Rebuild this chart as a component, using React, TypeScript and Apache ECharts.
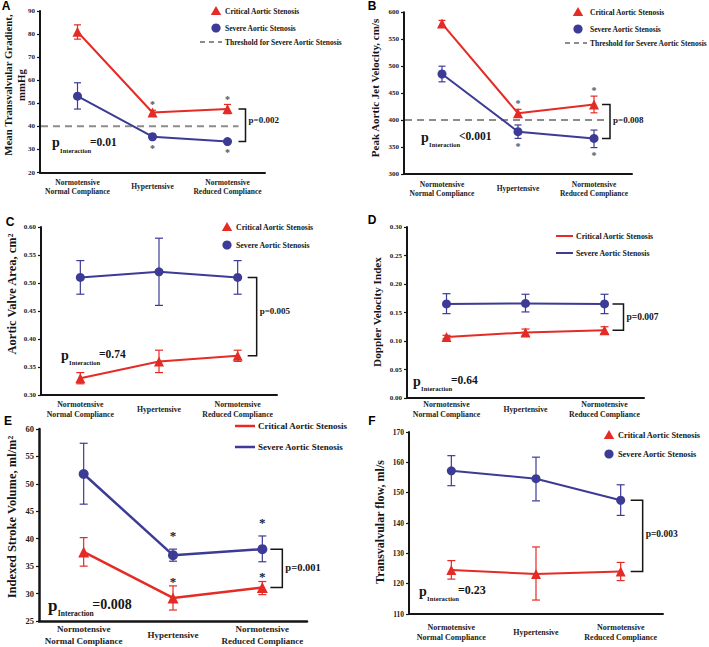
import React, { useEffect, useRef } from "react";
import * as echarts from "echarts";

const SERIF = "'Liberation Serif', 'Times New Roman', serif";
const SANS = "'Liberation Sans', Arial, sans-serif";
const RED = "#e42b26";
const BLUE = "#3c3b95";
const INK = "#151515";

const categories = ["Normotensive\nNormal Compliance", "Hypertensive", "Normotensive\nReduced Compliance"];
const seriesNames = ["Critical Aortic Stenosis", "Severe Aortic Stenosis"];
const thresholdName = "Threshold for Severe Aortic Stenosis";

// Panel A: mean transvalvular gradient (mmHg)
const gradientAxis = [20, 90, 10];
const gradientCritical = [81, 46, 47.5];
const gradientCriticalLow = [77.8, 45, 45.5];
const gradientCriticalHigh = [84, 47, 49.5];
const gradientSevere = [53.1, 35.5, 33.4];
const gradientSevereLow = [47.5, 34.3, 32.6];
const gradientSevereHigh = [58.9, 36.6, 34.3];
const gradientThreshold = 40;
const gradientStarsCritical = [0, 1, 1];
const gradientStarsSevere = [0, -1, -1];
const gradientP = "p=0.002";
const gradientInteraction = "=0.01";

// Panel B: peak aortic jet velocity (cm/s)
const velocityAxis = [300, 600, 50];
const velocityCritical = [579, 412.5, 429];
const velocityCriticalLow = [573, 405, 413.5];
const velocityCriticalHigh = [585, 420, 444.5];
const velocitySevere = [485.5, 378.5, 366];
const velocitySevereLow = [471, 366, 349];
const velocitySevereHigh = [500, 391, 381.5];
const velocityThreshold = 400;
const velocityStarsCritical = [0, 1, 1];
const velocityStarsSevere = [0, -1, -1];
const velocityP = "p=0.008";
const velocityInteraction = "<0.001";

// Panel C: aortic valve area (cm²)
const areaAxis = [0.3, 0.6, 0.05];
const areaCritical = [0.33, 0.36, 0.37];
const areaCriticalLow = [0.32, 0.34, 0.36];
const areaCriticalHigh = [0.34, 0.38, 0.38];
const areaSevere = [0.51, 0.52, 0.51];
const areaSevereLow = [0.48, 0.46, 0.48];
const areaSevereHigh = [0.54, 0.58, 0.54];
const areaP = "p=0.005";
const areaInteraction = "=0.74";

// Panel D: Doppler velocity index
const dviAxis = [0, 0.3, 0.05];
const dviCritical = [0.107, 0.115, 0.119];
const dviCriticalLow = [0.104, 0.109, 0.113];
const dviCriticalHigh = [0.11, 0.121, 0.125];
const dviSevere = [0.165, 0.166, 0.165];
const dviSevereLow = [0.148, 0.151, 0.148];
const dviSevereHigh = [0.183, 0.182, 0.182];
const dviP = "p=0.007";
const dviInteraction = "=0.64";

// Panel E: indexed stroke volume (ml/m²)
const svAxis = [25, 60, 5];
const svCritical = [37.6, 29.2, 31.1];
const svCriticalLow = [35.0, 27.0, 29.8];
const svCriticalHigh = [40.2, 31.4, 32.2];
const svSevere = [51.8, 37.0, 38.1];
const svSevereLow = [46.3, 35.9, 35.8];
const svSevereHigh = [57.4, 38.1, 40.5];
const svStarsCritical = [0, 1, 1];
const svStarsSevere = [0, 1, 1];
const svP = "p=0.001";
const svInteraction = "=0.008";

// Panel F: transvalvular flow (ml/s)
const flowAxis = [110, 170, 10];
const flowCritical = [124.5, 123.2, 124.0];
const flowCriticalLow = [121.5, 114.6, 121.0];
const flowCriticalHigh = [127.6, 132.1, 127.0];
const flowSevere = [157.2, 154.6, 147.5];
const flowSevereLow = [152.3, 147.3, 142.5];
const flowSevereHigh = [162.2, 161.7, 152.6];
const flowP = "p=0.003";
const flowInteraction = "=0.23";

const panels: any[] = [
  {
    letter: "A", title: "Mean Transvalvular Gradient,\nmmHg", axis: gradientAxis, decimals: 0,
    critical: [gradientCritical, gradientCriticalLow, gradientCriticalHigh],
    severe: [gradientSevere, gradientSevereLow, gradientSevereHigh],
    threshold: gradientThreshold, starsCritical: gradientStarsCritical, starsSevere: gradientStarsSevere,
    p: gradientP, interaction: gradientInteraction,
    L: {
      grid: [40, 11, 225, 161.5], letterPos: [6, 6], titlePos: [14.5, 85], titleSize: 10.8, titleLH: 13,
      tickFont: 7, catFont: 7.5, catLH: 9, catMargin: 14, axisW: 2,
      legend: { kind: "marker", x: 216, ys: [11, 28, 42], textX: 225, font: 7.5, dash: [200, 222] },
      bracket: [11, 18, 9, -5], pInt: { x: 52, base: 147.5, fp: 14, fs: 6.5, fv: 11.5 },
      star: { size: 10, color: "#555", gapC: 7, gapS: 7 }, tri: 10, circ: 9, cap: 3.5, lw: 2, dashEnd: 11,
    },
  },
  {
    letter: "B", title: "Peak Aortic Jet Velocity, cm/s", axis: velocityAxis, decimals: 0,
    critical: [velocityCritical, velocityCriticalLow, velocityCriticalHigh],
    severe: [velocitySevere, velocitySevereLow, velocitySevereHigh],
    threshold: velocityThreshold, starsCritical: velocityStarsCritical, starsSevere: velocityStarsSevere,
    p: velocityP, interaction: velocityInteraction,
    L: {
      grid: [404, 12.3, 228, 161.7], letterPos: [372, 6], titlePos: [375, 88], titleSize: 11, titleLH: 13,
      tickFont: 7, catFont: 7.5, catLH: 9, catMargin: 14.5, axisW: 2,
      legend: { kind: "marker", x: 578, ys: [12, 29, 43], textX: 590, font: 7.5, dash: [565, 587] },
      bracket: [8, 16, 9, -1], pInt: { x: 421, base: 142, fp: 14, fs: 6.5, fv: 11.5 },
      star: { size: 10, color: "#555", gapC: 7.5, gapS: 6 }, tri: 10, circ: 9, cap: 3.5, lw: 2, dashEnd: 12,
    },
  },
  {
    letter: "C", title: "Aortic Valve Area, cm²", axis: areaAxis, decimals: 2,
    critical: [areaCritical, areaCriticalLow, areaCriticalHigh],
    severe: [areaSevere, areaSevereLow, areaSevereHigh],
    p: areaP, interaction: areaInteraction,
    L: {
      grid: [41, 227, 236, 168], letterPos: [10, 222], titlePos: [12, 294], titleSize: 12.5, titleLH: 14,
      tickFont: 7, catFont: 7.8, catLH: 10, catMargin: 14, axisW: 2,
      legend: { kind: "marker", x: 227, ys: [227, 245], textX: 236, font: 7.8 },
      bracket: [10, 19, 9, -6], pInt: { x: 61, base: 360, fp: 14, fs: 6.5, fv: 11.5 },
      star: null, tri: 10, circ: 9, cap: 4, lw: 2,
    },
  },
  {
    letter: "D", title: "Doppler Velocity Index", axis: dviAxis, decimals: 2,
    critical: [dviCritical, dviCriticalLow, dviCriticalHigh],
    severe: [dviSevere, dviSevereLow, dviSevereHigh],
    p: dviP, interaction: dviInteraction,
    L: {
      grid: [407, 227, 237, 171], letterPos: [372, 220], titlePos: [377, 312], titleSize: 11.2, titleLH: 13,
      tickFont: 7, catFont: 7.8, catLH: 10, catMargin: 11, axisW: 2,
      legend: { kind: "line", x1: 556, x2: 573, ys: [236, 253], textX: 576, font: 7.8, lw: 2 },
      bracket: [8, 19, 9.5, 0], pInt: { x: 413, base: 386, fp: 14, fs: 6.5, fv: 11.5 },
      star: null, tri: 10, circ: 9, cap: 4, lw: 2,
    },
  },
  {
    letter: "E", title: "Indexed Stroke Volume, ml/m²", axis: svAxis, decimals: 0,
    critical: [svCritical, svCriticalLow, svCriticalHigh],
    severe: [svSevere, svSevereLow, svSevereHigh],
    starsCritical: svStarsCritical, starsSevere: svStarsSevere,
    p: svP, interaction: svInteraction,
    L: {
      grid: [39, 429, 268, 193], letterPos: [8, 421], titlePos: [12, 517], titleSize: 12.5, titleLH: 15,
      tickFont: 8.5, catFont: 9, catLH: 12, catMargin: 14, axisW: 2.5,
      legend: { kind: "line", x1: 235, x2: 255, ys: [426, 447], textX: 258, font: 9, lw: 2.5 },
      bracket: [8, 20, 10.5, -1], pInt: { x: 48, base: 611, fp: 17, fs: 7.5, fv: 14 },
      star: { size: 13, color: "#222", gapC: 7, gapS: 16 }, tri: 11, circ: 10, cap: 4, lw: 2.5,
    },
  },
  {
    letter: "F", title: "Transvalvular flow, ml/s", axis: flowAxis, decimals: 0,
    critical: [flowCritical, flowCriticalLow, flowCriticalHigh],
    severe: [flowSevere, flowSevereLow, flowSevereHigh],
    p: flowP, interaction: flowInteraction,
    L: {
      grid: [409, 432, 254, 182], letterPos: [372, 421], titlePos: [380, 522], titleSize: 12, titleLH: 13,
      tickFont: 7.5, catFont: 8, catLH: 10, catMargin: 18, axisW: 2,
      legend: { kind: "marker", x: 609, ys: [435, 454], textX: 618, font: 8.3 },
      bracket: [10, 22, 9.5, -2], pInt: { x: 419, base: 596, fp: 14, fs: 6.7, fv: 12 },
      star: null, tri: 10, circ: 9, cap: 4, lw: 2,
    },
  },
];

function errorBar(color: string, cap: number, width: number) {
  return (params: any, api: any) => {
    const x = api.value(0);
    const lo = api.coord([x, api.value(1)]);
    const hi = api.coord([x, api.value(2)]);
    const st = { stroke: color, lineWidth: width };
    return {
      type: "group",
      children: [
        { type: "line", shape: { x1: lo[0], y1: lo[1], x2: hi[0], y2: hi[1] }, style: st },
        { type: "line", shape: { x1: lo[0] - cap, y1: lo[1], x2: lo[0] + cap, y2: lo[1] }, style: st },
        { type: "line", shape: { x1: hi[0] - cap, y1: hi[1], x2: hi[0] + cap, y2: hi[1] }, style: st },
      ],
    };
  };
}

function starItem(size: number, color: string, gap: number) {
  return (params: any, api: any) => {
    const p = api.coord([api.value(0), api.value(1)]);
    const dir = api.value(2);
    const cy = p[1] - dir * gap + 0.17 * size;
    return {
      type: "text",
      x: p[0],
      y: cy,
      style: { text: "*", fill: color, fontSize: size, fontWeight: "bold", fontFamily: SERIF, align: "center", verticalAlign: "middle", textAlign: "center", textVerticalAlign: "middle" },
    };
  };
}

function bracketItem(label: string, dx1: number, dx2: number, fontSize: number, dy: number) {
  return (params: any, api: any) => {
    const top = api.coord([api.value(0), api.value(1)]);
    const bot = api.coord([api.value(0), api.value(2)]);
    const x1 = top[0] + dx1;
    const x2 = top[0] + dx2;
    return {
      type: "group",
      children: [
        {
          type: "polyline",
          shape: { points: [[x1, top[1]], [x2, top[1]], [x2, bot[1]], [x1, bot[1]]] },
          style: { stroke: INK, lineWidth: 1.5, fill: null },
        },
        {
          type: "text",
          x: x2 + 3,
          y: (top[1] + bot[1]) / 2 + dy,
          style: { text: label, fill: INK, fontSize, fontWeight: "bold", fontFamily: SERIF, align: "left", verticalAlign: "middle", textAlign: "left", textVerticalAlign: "middle" },
        },
      ],
    };
  };
}

function thresholdItem(endOffset: number) {
  return (params: any, api: any) => {
    const p = api.coord([api.value(0), api.value(1)]);
    return {
      type: "line",
      shape: { x1: params.coordSys.x + 1, y1: p[1], x2: p[0] + endOffset, y2: p[1] },
      style: { stroke: "#8c8c8c", lineWidth: 2, lineDash: [7, 5] },
    };
  };
}

function txt(x: number, y: number, text: string, size: number, extra: any = {}) {
  return {
    type: "text", x, y, silent: true,
    style: { text, fontSize: size, fontWeight: "bold", fontFamily: SERIF, fill: INK, align: "left", verticalAlign: "middle", ...extra },
  };
}

function buildOption() {
  const grid: any[] = [];
  const xAxis: any[] = [];
  const yAxis: any[] = [];
  const series: any[] = [];
  const graphic: any[] = [];
  const last = categories.length - 1;

  panels.forEach((pn, i) => {
    const L = pn.L;
    grid.push({ left: L.grid[0], top: L.grid[1], width: L.grid[2], height: L.grid[3] });
    xAxis.push({
      type: "category", gridIndex: i, data: categories, boundaryGap: true,
      axisLine: { lineStyle: { color: INK, width: L.axisW } },
      axisTick: { alignWithLabel: true, length: 3, lineStyle: { color: INK, width: 1.2 } },
      axisLabel: {
        interval: 0, margin: L.catMargin, verticalAlign: "middle", lineHeight: L.catLH,
        fontSize: L.catFont, fontWeight: "bold", fontFamily: SERIF, color: "#222",
      },
      splitLine: { show: false },
    });
    yAxis.push({
      type: "value", gridIndex: i, min: pn.axis[0], max: pn.axis[1], interval: pn.axis[2],
      axisLine: { show: true, lineStyle: { color: INK, width: L.axisW } },
      axisTick: { show: true, length: 3, lineStyle: { color: INK, width: 1.2 } },
      splitLine: { show: false },
      axisLabel: {
        margin: 5, fontSize: L.tickFont, fontWeight: "bold", fontFamily: SERIF, color: "#222",
        formatter: (v: number) => v.toFixed(pn.decimals),
      },
    });

    const groups = [
      { name: seriesNames[0], vals: pn.critical, color: RED, symbol: "triangle", size: L.tri, stars: pn.starsCritical, gap: L.star && L.star.gapC },
      { name: seriesNames[1], vals: pn.severe, color: BLUE, symbol: "circle", size: L.circ, stars: pn.starsSevere, gap: L.star && L.star.gapS },
    ];
    groups.forEach((g) => {
      const [mean, low, high] = g.vals;
      series.push({
        type: "line", name: g.name, xAxisIndex: i, yAxisIndex: i, data: mean,
        symbol: g.symbol, symbolSize: g.size, showAllSymbol: true,
        lineStyle: { color: g.color, width: L.lw }, itemStyle: { color: g.color }, z: 3,
      });
      series.push({
        type: "custom", xAxisIndex: i, yAxisIndex: i,
        data: mean.map((_: number, k: number) => [k, low[k], high[k]]),
        encode: { x: 0, y: [1, 2] }, renderItem: errorBar(g.color, L.cap, 1.2), z: 4,
      });
      if (g.stars && L.star) {
        const d = g.stars
          .map((s: number, k: number) => (s ? [k, s > 0 ? high[k] : low[k], s] : null))
          .filter(Boolean);
        series.push({
          type: "custom", xAxisIndex: i, yAxisIndex: i, data: d, encode: { x: 0, y: 1 },
          renderItem: starItem(L.star.size, L.star.color, g.gap), z: 5,
        });
      }
    });

    const topVal = Math.max(pn.critical[0][last], pn.severe[0][last]);
    const botVal = Math.min(pn.critical[0][last], pn.severe[0][last]);
    series.push({
      type: "custom", xAxisIndex: i, yAxisIndex: i, data: [[last, topVal, botVal]],
      encode: { x: 0, y: [1, 2] },
      renderItem: bracketItem(pn.p, L.bracket[0], L.bracket[1], L.bracket[2], L.bracket[3]), z: 5,
    });
    if (pn.threshold != null) {
      series.push({
        type: "custom", xAxisIndex: i, yAxisIndex: i, data: [[last, pn.threshold]],
        encode: { x: 0, y: 1 }, renderItem: thresholdItem(L.dashEnd), z: 1,
      });
    }

    // panel letter
    graphic.push({
      type: "text", x: L.letterPos[0], y: L.letterPos[1], silent: true,
      style: { text: pn.letter, fontSize: 12, fontWeight: "bold", fontFamily: SANS, fill: "#000", align: "center", verticalAlign: "middle" },
    });
    // y title
    graphic.push({
      type: "text", x: L.titlePos[0], y: L.titlePos[1], rotation: Math.PI / 2, silent: true,
      style: { text: pn.title, fontSize: L.titleSize, lineHeight: L.titleLH, fontWeight: "bold", fontFamily: SERIF, fill: INK, align: "center", verticalAlign: "middle" },
    });
    // legend
    const lg = L.legend;
    const names = pn.threshold != null ? [seriesNames[0], seriesNames[1], thresholdName] : seriesNames;
    names.forEach((nm: string, k: number) => {
      const y = lg.ys[k];
      if (k === 2) {
        graphic.push({
          type: "line", silent: true, shape: { x1: lg.dash[0], y1: y, x2: lg.dash[1], y2: y },
          style: { stroke: "#8c8c8c", lineWidth: 2, lineDash: [5, 4] },
        });
      } else if (lg.kind === "marker") {
        if (k === 0) {
          graphic.push({
            type: "polygon", silent: true,
            shape: { points: [[lg.x, y - 5], [lg.x + 5.2, y + 4], [lg.x - 5.2, y + 4]] },
            style: { fill: RED },
          });
        } else {
          graphic.push({ type: "circle", silent: true, shape: { cx: lg.x, cy: y, r: 4.6 }, style: { fill: BLUE } });
        }
      } else {
        graphic.push({
          type: "line", silent: true, shape: { x1: lg.x1, y1: y, x2: lg.x2, y2: y },
          style: { stroke: k === 0 ? RED : BLUE, lineWidth: lg.lw },
        });
      }
      graphic.push(txt(lg.textX, y, nm, lg.font));
    });
    // p interaction
    const pi = L.pInt;
    graphic.push(txt(pi.x, pi.base - 0.3375 * pi.fp, "p", pi.fp));
    const sx = pi.x + 0.58 * pi.fp;
    graphic.push(txt(sx, pi.base + 5 - 0.3375 * pi.fs, "Interaction", pi.fs));
    graphic.push(txt(sx + 4.6 * pi.fs, pi.base - 0.3375 * pi.fv - 2, pn.interaction, pi.fv));
  });

  return {
    animation: false,
    backgroundColor: "#ffffff",
    grid, xAxis, yAxis, series, graphic,
  };
}

export default function App() {
  const ref = useRef<HTMLDivElement>(null);
  useEffect(() => {
    if (!ref.current) return;
    const chart = echarts.init(ref.current, null, { renderer: "svg" });
    chart.setOption(buildOption() as any);
    return () => chart.dispose();
  }, []);
  return (
    <div
      ref={ref}
      style={{ position: "fixed", left: 0, top: 0, width: 709, height: 647, background: "#fff" }}
    />
  );
}
